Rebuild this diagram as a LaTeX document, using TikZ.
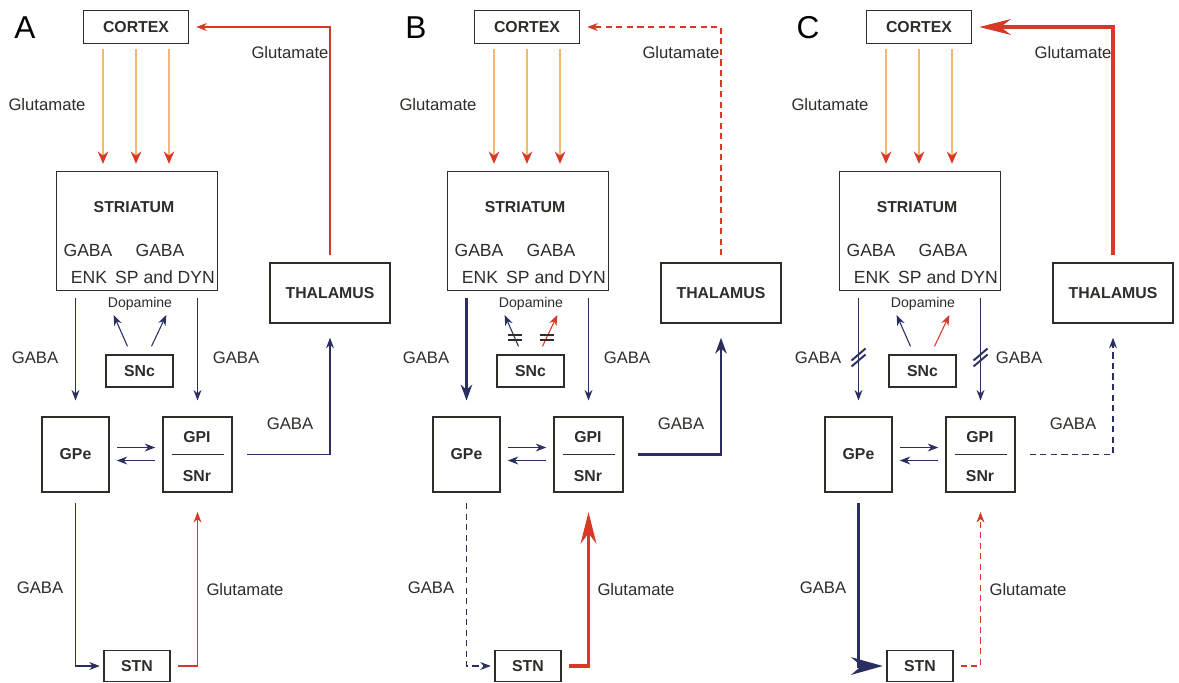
\documentclass[tikz,border=0pt]{standalone}
\usepackage{tikz}
\usetikzlibrary{positioning,calc,arrows.meta}
\usepackage{fontspec}
\setmainfont{Liberation Sans}
\definecolor{navy}{RGB}{42,46,96}
\definecolor{glured}{RGB}{214,58,38}
\definecolor{glulight}{RGB}{244,184,118}
\definecolor{ink}{RGB}{48,44,40}

\tikzset{
  region/.style={draw=ink, line width=0.8pt, fill=white, inner sep=0pt, text=ink, font=\fontsize{9}{10}\selectfont\bfseries},
  boxtext/.style={inner sep=0pt, text=ink, font=\fontsize{9}{10}\selectfont\bfseries},
  celltext/.style={inner sep=0pt, text=ink, font=\fontsize{10}{12}\selectfont},
  lbl/.style={inner sep=0pt, text=ink, font=\fontsize{9.5}{11}\selectfont},
  paneltag/.style={inner sep=0pt, text=black, font=\fontsize{18}{20}\selectfont},
  glu/.style={glulight, line width=0.7pt, -{Stealth[length=7pt, width=6pt, color=glured]}},
  inhib/.style={navy, line width=0.6pt, -{Stealth[length=6pt, width=4.5pt]}},
  inhibthick/.style={navy, line width=1.3pt, -{Stealth[length=9pt, width=6.5pt]}},
  inhibheavy/.style={navy, line width=2.2pt, -{Stealth[length=18pt, width=10pt]}},
  inhibdash/.style={inhib, dash pattern=on 3.5pt off 2.5pt},
  excite/.style={glured, line width=0.6pt, -{Stealth[length=6pt, width=4.5pt]}},
  exciteheavy/.style={glured, line width=1.8pt, -{Stealth[length=18pt, width=9pt]}},
  excitedash/.style={excite, dash pattern=on 3.5pt off 2.5pt},
  markbar/.style={ink, line width=1.1pt},
  gap/.style={shorten <=#1, shorten >=#1}
}

\begin{document}
\begin{tikzpicture}[x=0.02cm, y=-0.02cm]
  \path[fill=white] (0,0) rectangle (1179,682);

  % boxes and labels shared by the three panels
  \foreach \p/\dx in {A/0, B/391, C/783}{
    \node[paneltag] (tag\p) at (\dx+25,28) {\p};
    \node[region, minimum width=2.1cm, minimum height=0.66cm] (cortex\p) at (\dx+136,27) {CORTEX};
    \node[region, minimum width=3.22cm, minimum height=2.38cm] (striatum\p) at (\dx+137,231) {};
    \node[boxtext] (strtitle\p) at (\dx+134,207) {STRIATUM};
    \node[celltext] (gabaenk\p) at (\dx+88,250) {GABA};
    \node[celltext] (gabasp\p) at (\dx+160,250) {GABA};
    \node[celltext] (enk\p) at (\dx+89,277) {ENK};
    \node[celltext] (spdyn\p) at (\dx+165,277) {SP and DYN};
    \node[region, minimum width=2.4cm, minimum height=1.2cm] (thalamus\p) at (\dx+330,293) {THALAMUS};
    \node[region, minimum width=1.34cm, minimum height=0.64cm] (snc\p) at (\dx+139.5,371) {SNc};
    \node[region, minimum width=1.34cm, minimum height=1.5cm] (gpe\p) at (\dx+75.5,454.5) {GPe};
    \node[region, minimum width=1.38cm, minimum height=1.5cm] (gpi\p) at (\dx+197.5,454.5) {};
    \node[boxtext] (gpitext\p) at (\dx+197,437) {GPI};
    \node[boxtext] (snrtext\p) at (\dx+197,476) {SNr};
    \draw[ink, line width=0.8pt] ($(gpi\p)+(-26,0)$) -- ($(gpi\p)+(26,0)$);
    \node[region, minimum width=1.32cm, minimum height=0.62cm] (stn\p) at (\dx+137,666) {STN};

    \node[lbl] (glucs\p) at (\dx+47,105) {Glutamate};
    \node[lbl] (gluth\p) at (\dx+290,53) {Glutamate};
    \node[lbl] (gabae\p) at (\dx+35,358) {GABA};
    \node[lbl] (gabai\p) at (\dx+236,358) {GABA};
    \node[lbl] (gabat\p) at (\dx+290,424) {GABA};
    \node[lbl] (gabas\p) at (\dx+40,588) {GABA};
    \node[lbl] (glust\p) at (\dx+245,590) {Glutamate};
    \node[lbl, font=\fontsize{8}{9}\selectfont] (dopa\p) at (\dx+140,304) {Dopamine};

    \foreach \sx in {-33,0,33}
      \draw[glu, shorten <=3pt, shorten >=4pt] ($(cortex\p.south)+(\sx,0)$) -- ($(striatum\p.north)+(\sx-1,0)$);
    \draw[inhib, gap=4pt] ($(gpe\p.east)+(0,-7)$) -- ($(gpi\p.west)+(0,-7)$);
    \draw[inhib, gap=4pt] ($(gpi\p.west)+(0,6)$) -- ($(gpe\p.east)+(0,6)$);
  }

  % A: normal
  \draw[inhib, shorten <=4pt, shorten >=9pt] (striatumA.south -| gpeA.north) -- (gpeA.north);
  \draw[inhib, shorten <=4pt, shorten >=9pt] (striatumA.south -| gpiA.north) -- (gpiA.north);
  \draw[inhib] ($(sncA.north)+(-12,-8)$) -- ($(dopaA.south west)+(6,4)$);
  \draw[inhib] ($(sncA.north)+(12,-8)$) -- ($(dopaA.south east)+(-6,4)$);
  \draw[inhib, gap=8pt] (gpiA.east) -| (thalamusA.south);
  \draw[excite, gap=4pt] (thalamusA.north) |- (cortexA.east);
  \draw[inhib, shorten <=6pt, shorten >=2pt] (gpeA.south) |- (stnA.west);
  \draw[excite, shorten <=4pt, shorten >=11pt] (stnA.east) -| (gpiA.south);

  % B
  \draw[inhibthick, shorten <=4pt, shorten >=9pt] (striatumB.south -| gpeB.north) -- (gpeB.north);
  \draw[inhib, shorten <=4pt, shorten >=9pt] (striatumB.south -| gpiB.north) -- (gpiB.north);
  \draw[inhib] ($(sncB.north)+(-12,-8)$) -- coordinate[pos=.28] (blockBl) ($(dopaB.south west)+(6,4)$);
  \draw[excite] ($(sncB.north)+(12,-8)$) -- coordinate[pos=.28] (blockBr) ($(dopaB.south east)+(-6,4)$);
  \draw[markbar] ($(blockBl)+(-7,-2.5)$) -- ++(14,0) ($(blockBl)+(-7,2.5)$) -- ++(14,0);
  \draw[markbar] ($(blockBr)+(-7,-2.5)$) -- ++(14,0) ($(blockBr)+(-7,2.5)$) -- ++(14,0);
  \draw[inhibthick, gap=8pt] (gpiB.east) -| (thalamusB.south);
  \draw[excitedash, gap=4pt] (thalamusB.north) |- (cortexB.east);
  \draw[inhibdash, shorten <=6pt, shorten >=2pt] (gpeB.south) |- (stnB.west);
  \draw[exciteheavy, shorten <=4pt, shorten >=11pt] (stnB.east) -| (gpiB.south);

  % C
  \draw[inhib, shorten <=4pt, shorten >=9pt] (striatumC.south -| gpeC.north) -- coordinate[pos=.53] (cutCl) (gpeC.north);
  \draw[inhib, shorten <=4pt, shorten >=9pt] (striatumC.south -| gpiC.north) -- coordinate[pos=.53] (cutCr) (gpiC.north);
  \draw[markbar, navy] ($(cutCl)+(-7,3)$) -- ++(14,-12) ($(cutCl)+(-7,9)$) -- ++(14,-12);
  \draw[markbar, navy] ($(cutCr)+(-7,3)$) -- ++(14,-12) ($(cutCr)+(-7,9)$) -- ++(14,-12);
  \draw[inhib] ($(sncC.north)+(-12,-8)$) -- ($(dopaC.south west)+(6,4)$);
  \draw[excite] ($(sncC.north)+(12,-8)$) -- ($(dopaC.south east)+(-6,4)$);
  \draw[inhibdash, gap=8pt] (gpiC.east) -| (thalamusC.south);
  \draw[exciteheavy, gap=4pt] (thalamusC.north) |- (cortexC.east);
  \draw[inhibheavy, shorten <=6pt, shorten >=2pt] (gpeC.south) |- (stnC.west);
  \draw[excitedash, shorten <=4pt, shorten >=11pt] (stnC.east) -| (gpiC.south);
\end{tikzpicture}
\end{document}
